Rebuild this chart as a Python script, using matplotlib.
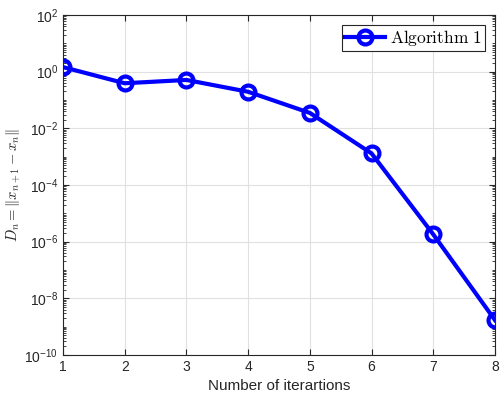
import numpy as np
import matplotlib
matplotlib.use("Agg")
import matplotlib.pyplot as plt
from matplotlib.ticker import LogLocator, NullFormatter

plt.rcParams['mathtext.fontset'] = 'cm'
plt.rcParams['font.family'] = ['Liberation Sans', 'DejaVu Sans']

# data
iterations = [1, 2, 3, 4, 5, 6, 7, 8]
D_n = [1.45, 0.39, 0.51, 0.195, 0.035, 1.3e-3, 1.8e-6, 1.7e-9]
y_ticks = [1e-10, 1e-8, 1e-6, 1e-4, 1e-2, 1e0, 1e2]

fig = plt.figure(figsize=(5.03, 3.96), dpi=100)
ax = fig.add_axes([63 / 503, 1 - 355 / 396, 432 / 503, 340 / 396])

ax.semilogy(iterations, D_n, color='#0000ff', lw=3, marker='o', ms=10,
            mfc='none', mew=3, label=r'$\mathrm{Algorithm\ 1}$', zorder=3)

ax.set_xlim(1, 8)
ax.set_ylim(1e-10, 1e2)
ax.set_xticks(iterations)
ax.set_yticks(y_ticks)
ax.yaxis.set_minor_locator(LogLocator(base=10, subs=np.arange(1, 10), numticks=100))
ax.yaxis.set_minor_formatter(NullFormatter())

gray = '#262626'
ax.grid(True, which='major', color='#e0e0e0', lw=0.8, zorder=0)
ax.tick_params(which='both', direction='in', top=True, right=True, colors=gray,
               labelsize=10)
ax.tick_params(which='major', length=4)
ax.tick_params(which='minor', length=2)
for s in ax.spines.values():
    s.set_color(gray)
    s.set_linewidth(0.8)

ax.set_xlabel('Number of iterartions', fontsize=11, color=gray)
ax.set_ylabel(r'$D_n = \|x_{n+1} - x_n\|$', fontsize=10.5, color=gray)
ax.yaxis.set_label_coords(-0.092, 0.5)

leg = ax.legend(loc='upper right', fontsize=12.5, fancybox=False, framealpha=1,
                edgecolor=gray, handlelength=2.3, handletextpad=0.3,
                borderpad=0.15, borderaxespad=0.6)
leg.get_frame().set_linewidth(0.8)

fig.savefig('out.png', dpi=100)
